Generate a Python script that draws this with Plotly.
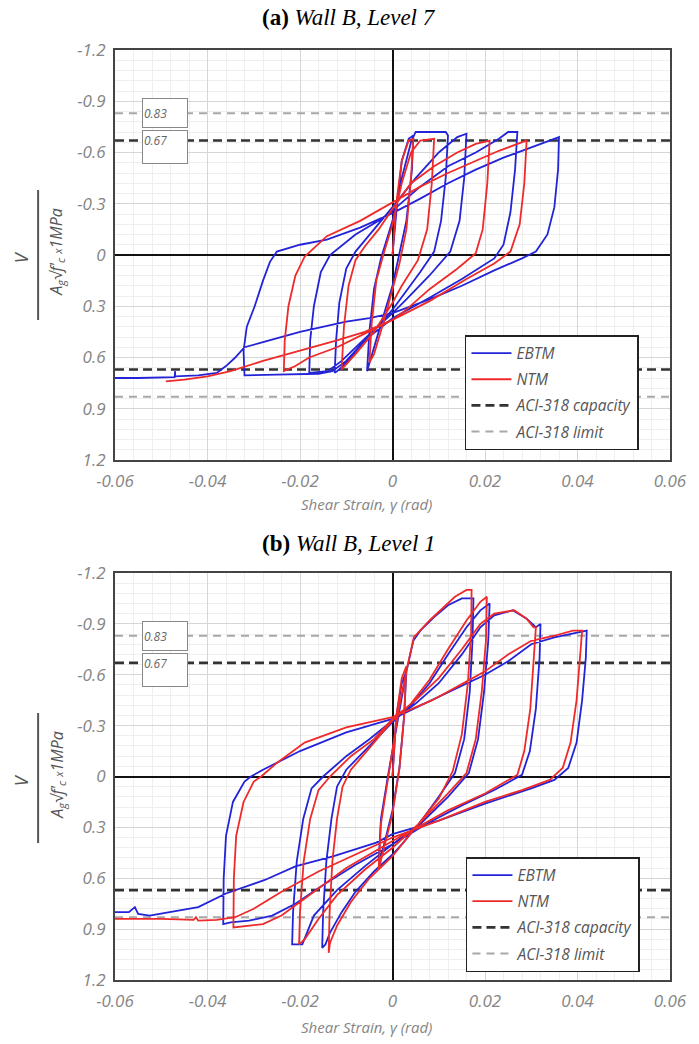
import plotly.graph_objects as go

# ---------------- data ----------------
x_ticks = [-0.06, -0.04, -0.02, 0, 0.02, 0.04, 0.06]
x_tick_text = ["-0.06", "-0.04", "-0.02", "0", "0.02", "0.04", "0.06"]
y_ticks = [-1.2, -0.9, -0.6, -0.3, 0, 0.3, 0.6, 0.9, 1.2]
y_tick_text = ["-1.2", "-0.9", "-0.6", "-0.3", "0", "0.3", "0.6", "0.9", "1.2"]

aci_capacity = 0.67
aci_limit = 0.83

# Panel (a) Wall B, Level 7 - EBTM
a_ebtm_x = [0, 0.001, 0.002, 0.0035, 0.0045,
            0.0042, 0.003, 0.0015, 0, -0.003, -0.005, -0.0055,
            -0.005, -0.004, -0.0025, 0, 0.002, 0.004, 0.005, 0.0115, 0.012,
            0.0115, 0.0105, 0.009, 0.006, 0.002, 0, -0.005, -0.009, -0.0115, -0.0125,
            -0.0122, -0.0115, -0.010, -0.008, -0.004, 0, 0.005, 0.010, 0.014, 0.016,
            0.0155, 0.0145, 0.0125, 0.008, 0.003, 0, -0.006, -0.011, -0.014, -0.018,
            -0.0178, -0.017, -0.0155, -0.0135, -0.008, -0.003, 0, 0.006, 0.012, 0.018, 0.023, 0.025, 0.027,
            0.0265, 0.0255, 0.024, 0.022, 0.015, 0.008, 0, -0.006, -0.010, -0.013, -0.016, -0.025, -0.032,
            -0.0322, -0.0315, -0.0298, -0.028, -0.0265, -0.025, -0.020, -0.0142, -0.007, 0, 0.006, 0.012,
            0.018, 0.024, 0.029, 0.033, 0.036,
            0.0358, 0.035, 0.0335, 0.031, 0.028, 0.022, 0.015, 0.008, 0, -0.005, -0.010, -0.020, -0.028,
            -0.032, -0.034, -0.036, -0.038, -0.042, -0.047, -0.047, -0.0471, -0.055, -0.060]
a_ebtm_y = [0, -0.30, -0.55, -0.68, -0.70,
            -0.50, -0.20, 0.0, 0.18, 0.45, 0.63, 0.68,
            0.45, 0.20, 0.02, -0.20, -0.45, -0.66, -0.72, -0.72, -0.70,
            -0.45, -0.20, -0.02, 0.10, 0.25, 0.32, 0.47, 0.60, 0.67, 0.69,
            0.50, 0.28, 0.08, -0.02, -0.15, -0.28, -0.45, -0.60, -0.69, -0.71,
            -0.45, -0.20, -0.02, 0.12, 0.26, 0.34, 0.49, 0.62, 0.68, 0.69,
            0.50, 0.30, 0.10, 0.0, -0.12, -0.20, -0.26, -0.40, -0.52, -0.60, -0.68, -0.72, -0.72,
            -0.50, -0.25, -0.06, 0.02, 0.14, 0.25, 0.37, 0.50, 0.62, 0.68, 0.695, 0.70, 0.705,
            0.56, 0.42, 0.30, 0.15, 0.04, -0.02, -0.06, -0.09, -0.16, -0.245, -0.33, -0.42,
            -0.50, -0.57, -0.62, -0.66, -0.69,
            -0.50, -0.28, -0.12, -0.02, 0.02, 0.09, 0.18, 0.26, 0.34, 0.37, 0.39, 0.45, 0.51,
            0.54, 0.60, 0.65, 0.69, 0.705, 0.71, 0.68, 0.715, 0.72, 0.72]

# Panel (a) - NTM
a_ntm_x = [0, 0.0008, 0.002, 0.0035, 0.0045,
           0.004, 0.003, 0.0015, 0, -0.002, -0.004, -0.005,
           -0.0045, -0.0035, -0.002, 0, 0.002, 0.004, 0.006, 0.009,
           0.0085, 0.0075, 0.0055, 0.002, 0, -0.004, -0.008, -0.0105, -0.011,
           -0.0105, -0.0095, -0.008, -0.006, -0.003, 0, 0.004, 0.009, 0.014, 0.018, 0.021,
           0.0205, 0.0195, 0.018, 0.014, 0.008, 0.003, 0, -0.006, -0.012, -0.018, -0.021, -0.0235,
           -0.0233, -0.0225, -0.021, -0.019, -0.0142, -0.007, 0, 0.006, 0.012, 0.018, 0.023, 0.027, 0.029,
           0.0285, 0.0275, 0.0255, 0.022, 0.016, 0.008, 0, -0.006, -0.012, -0.020, -0.028, -0.035,
           -0.040, -0.045, -0.049]
a_ntm_y = [0, -0.30, -0.55, -0.67, -0.68,
           -0.45, -0.15, 0.05, 0.20, 0.40, 0.58, 0.63,
           0.40, 0.15, 0.0, -0.18, -0.42, -0.60, -0.67, -0.68,
           -0.42, -0.15, 0.03, 0.18, 0.28, 0.45, 0.58, 0.65, 0.67,
           0.42, 0.18, 0.03, -0.05, -0.15, -0.27, -0.42, -0.52, -0.60, -0.65, -0.67,
           -0.42, -0.15, -0.01, 0.08, 0.20, 0.32, 0.38, 0.46, 0.54, 0.60, 0.65, 0.68,
           0.50, 0.30, 0.12, 0.01, -0.11, -0.20, -0.31, -0.40, -0.48, -0.55, -0.61, -0.65, -0.67,
           -0.42, -0.18, -0.02, 0.05, 0.14, 0.27, 0.38, 0.45, 0.50, 0.56, 0.62, 0.68,
           0.71, 0.73, 0.74]

# Panel (b) Wall B, Level 1 - EBTM
b_ebtm_x = [0, 0.0008, 0.002, 0.003,
            0.0025, 0.0015, 0, -0.002, -0.003,
            -0.0025, -0.001, 0, 0.0015, 0.003, 0.0045, 0.006, 0.009, 0.012, 0.015, 0.0175,
            0.0173, 0.0167, 0.0155, 0.0135, 0.010, 0.006, 0.002, 0, -0.004, -0.008, -0.011, -0.0135,
            -0.0145, -0.0152,
            -0.015, -0.0143, -0.0132, -0.012, -0.010, -0.005, 0, 0.004, 0.008, 0.012, 0.016, 0.019, 0.021,
            0.0207, 0.0198, 0.0185, 0.0165, 0.012, 0.006, 0, -0.006, -0.012, -0.017, -0.0195, -0.0217,
            -0.0215, -0.0207, -0.0193, -0.0175, -0.015, -0.010, -0.005, 0, 0.005, 0.010, 0.015, 0.019,
            0.022, 0.026, 0.029, 0.031, 0.032,
            0.0318, 0.031, 0.0297, 0.028, 0.022, 0.015, 0.008, 0, -0.008, -0.015, -0.021, -0.026, -0.031,
            -0.035, -0.0366,
            -0.0365, -0.036, -0.0345, -0.032, -0.0306, -0.028, -0.020, -0.010, 0, 0.0086, 0.014, 0.020,
            0.025, 0.030, 0.035, 0.040, 0.042,
            0.0418, 0.041, 0.0398, 0.038, 0.035, 0.030, 0.020, 0.010, 0, -0.0035, -0.0127, -0.021,
            -0.0276, -0.0327, -0.036, -0.042, -0.048, -0.0525, -0.055, -0.0557, -0.057, -0.060]
b_ebtm_y = [0, -0.35, -0.55, -0.62,
            -0.35, -0.05, 0.20, 0.42, 0.50,
            0.25, 0.0, -0.15, -0.40, -0.62, -0.80, -0.86, -0.94, -1.01, -1.05, -1.05,
            -0.80, -0.50, -0.22, -0.02, 0.12, 0.27, 0.40, 0.46, 0.56, 0.68, 0.80, 0.92,
            0.99, 1.01,
            0.80, 0.50, 0.25, 0.06, -0.04, -0.18, -0.32, -0.42, -0.55, -0.72, -0.88, -0.98, -1.02,
            -0.80, -0.50, -0.22, -0.02, 0.12, 0.28, 0.40, 0.53, 0.67, 0.82, 0.99, 0.99,
            0.80, 0.50, 0.25, 0.07, 0.0, -0.12, -0.22, -0.33, -0.43, -0.55, -0.72, -0.88,
            -0.95, -0.98, -0.93, -0.88, -0.90,
            -0.70, -0.40, -0.15, -0.01, 0.08, 0.17, 0.27, 0.40, 0.52, 0.64, 0.75, 0.82, 0.85,
            0.86, 0.87,
            0.60, 0.35, 0.15, 0.03, 0.0, -0.04, -0.15, -0.26, -0.34, -0.45, -0.52, -0.60,
            -0.68, -0.78, -0.82, -0.85, -0.86,
            -0.70, -0.45, -0.20, -0.05, 0.02, 0.07, 0.16, 0.26, 0.34, 0.39, 0.47, 0.53,
            0.61, 0.66, 0.69, 0.77, 0.80, 0.82, 0.81, 0.77, 0.80, 0.80]

# Panel (b) - NTM
b_ntm_x = [0, 0.0008, 0.002, 0.003,
           0.0025, 0.0015, 0, -0.002, -0.003,
           -0.0025, -0.001, 0, 0.0015, 0.003, 0.0046, 0.008, 0.0135, 0.016, 0.0171,
           0.017, 0.0163, 0.015, 0.013, 0.010, 0.005, 0, -0.005, -0.009, -0.012, -0.0135, -0.0138,
           -0.0136, -0.013, -0.012, -0.0108, -0.009, -0.004, 0, 0.004, 0.008, 0.012, 0.016, 0.019, 0.0204,
           0.0202, 0.0193, 0.018, 0.016, 0.012, 0.006, 0, -0.006, -0.012, -0.016, -0.019, -0.0202,
           -0.020, -0.0192, -0.0178, -0.016, -0.0135, -0.009, -0.004, 0, 0.005, 0.010, 0.015, 0.019,
           0.022, 0.0263, 0.029, 0.0305, 0.031,
           0.0305, 0.0298, 0.0285, 0.027, 0.020, 0.012, 0, -0.010, -0.018, -0.024, -0.028, -0.032, -0.0344,
           -0.0343, -0.0338, -0.0322, -0.030, -0.0284, -0.025, -0.019, -0.010, 0, 0.0086, 0.014, 0.020,
           0.025, 0.030, 0.035, 0.039, 0.041,
           0.0405, 0.0398, 0.0385, 0.0368, 0.034, 0.028, 0.020, 0.010, 0, -0.008, -0.016, -0.024,
           -0.030, -0.034, -0.038, -0.042, -0.0425, -0.043, -0.050, -0.060]
b_ntm_y = [0, -0.35, -0.58, -0.65,
           -0.35, -0.05, 0.22, 0.45, 0.55,
           0.28, 0.02, -0.15, -0.42, -0.62, -0.82, -0.92, -1.06, -1.10, -1.10,
           -0.85, -0.55, -0.25, -0.03, 0.13, 0.30, 0.47, 0.60, 0.74, 0.88, 0.98, 1.04,
           0.80, 0.50, 0.25, 0.06, -0.04, -0.20, -0.33, -0.43, -0.57, -0.75, -0.92, -1.03, -1.06,
           -0.80, -0.50, -0.22, -0.02, 0.10, 0.27, 0.42, 0.55, 0.70, 0.84, 0.96, 0.99,
           0.80, 0.50, 0.25, 0.08, 0.0, -0.12, -0.22, -0.34, -0.45, -0.58, -0.75, -0.90,
           -0.96, -0.98, -0.93, -0.88, -0.88,
           -0.70, -0.40, -0.15, -0.01, 0.10, 0.20, 0.38, 0.54, 0.70, 0.82, 0.87, 0.88, 0.89,
           0.60, 0.35, 0.15, 0.03, 0.0, -0.08, -0.20, -0.29, -0.35, -0.45, -0.53, -0.62,
           -0.72, -0.80, -0.83, -0.86, -0.86,
           -0.70, -0.45, -0.20, -0.05, 0.02, 0.08, 0.15, 0.26, 0.36, 0.46, 0.56, 0.68,
           0.78, 0.83, 0.845, 0.85, 0.83, 0.845, 0.84, 0.84]

# ---------------- styling ----------------
BLUE = "#2323d8"
RED = "#ee2a2a"
GRAY_TXT = "#858585"
FAM = "Open Sans"
TICK_FONT = dict(family=FAM, size=17, color=GRAY_TXT, style="italic")

fig = go.Figure()

panels = [
    ("x", "y", "legend", a_ebtm_x, a_ebtm_y, a_ntm_x, a_ntm_y),
    ("x2", "y2", "legend2", b_ebtm_x, b_ebtm_y, b_ntm_x, b_ntm_y),
]

for xa, ya, lg, ex, ey, nx, ny in panels:
    for sgn in (-1, 1):
        fig.add_trace(go.Scatter(
            x=[x_ticks[0], x_ticks[-1]], y=[sgn * aci_limit] * 2, xaxis=xa, yaxis=ya,
            mode="lines", line=dict(color="#a8a8a8", width=2, dash="8px,6px"),
            name="ACI-318 limit", legend=lg, showlegend=(sgn == 1),
            legendgroup=lg + "d", legendrank=4))
        fig.add_trace(go.Scatter(
            x=[x_ticks[0], x_ticks[-1]], y=[sgn * aci_capacity] * 2, xaxis=xa, yaxis=ya,
            mode="lines", line=dict(color="#333333", width=2.6, dash="9px,5px"),
            name="ACI-318 capacity", legend=lg, showlegend=(sgn == 1),
            legendgroup=lg + "c", legendrank=3))
    fig.add_trace(go.Scatter(x=ex, y=ey, xaxis=xa, yaxis=ya, mode="lines",
                             line=dict(color=BLUE, width=1.8), name="EBTM",
                             legend=lg, legendgroup=lg + "a", legendrank=1))
    fig.add_trace(go.Scatter(x=nx, y=ny, xaxis=xa, yaxis=ya, mode="lines",
                             line=dict(color=RED, width=1.8), name="NTM",
                             legend=lg, legendgroup=lg + "b", legendrank=2))

axis_common_x = dict(
    range=[-0.06, 0.06], tickmode="array", tickvals=x_ticks,
    ticktext=["<i>%s</i>" % t for t in x_tick_text],
    tickfont=TICK_FONT, showgrid=True, gridcolor="#d6d6d6", gridwidth=1,
    zeroline=True, zerolinecolor="#111111", zerolinewidth=1.6,
    showline=True, linecolor="#444444", linewidth=2, mirror=True,
    ticks="outside", ticklen=5, tickcolor="rgba(0,0,0,0)",
    minor=dict(showgrid=True, gridcolor="#efefef", dtick=0.004, tick0=0),
)
axis_common_y = dict(
    range=[1.2, -1.2], tickmode="array", tickvals=y_ticks,
    ticktext=["<i>%s</i>" % t for t in y_tick_text],
    tickfont=TICK_FONT, showgrid=True, gridcolor="#d6d6d6", gridwidth=1,
    zeroline=True, zerolinecolor="#111111", zerolinewidth=1.6,
    showline=True, linecolor="#444444", linewidth=2, mirror=True,
    ticks="outside", ticklen=4, tickcolor="rgba(0,0,0,0)",
    minor=dict(showgrid=True, gridcolor="#efefef", dtick=0.06, tick0=0),
)

H_TOP, H_BOT = 50, 64
PH = 1044 - H_TOP - H_BOT  # 930


def py(pix):
    return (1044 - H_BOT - pix) / PH


def px(pix):
    return (pix - 115) / (699 - 115 - 21)


fig.update_layout(
    width=699, height=1044,
    margin=dict(l=115, r=21, t=H_TOP, b=H_BOT),
    paper_bgcolor="white", plot_bgcolor="white",
    xaxis=dict(domain=[0, 1], anchor="y", **axis_common_x),
    yaxis=dict(domain=[py(460), 1], anchor="x", **axis_common_y),
    xaxis2=dict(domain=[0, 1], anchor="y2", **axis_common_x),
    yaxis2=dict(domain=[0, py(573)], anchor="x2", **axis_common_y),
    font=dict(family=FAM),
)

legend_style = dict(
    bgcolor="white", bordercolor="#222222", borderwidth=1.5,
    font=dict(family=FAM, size=15.5, color="#555555", style="italic"),
    xanchor="left", yanchor="top", traceorder="grouped", tracegroupgap=3,
    itemwidth=40,
)
fig.update_layout(
    legend=dict(x=px(470), y=py(335), **legend_style),
    legend2=dict(x=px(471), y=py(857), **legend_style),
)

annotations = []
# titles
for label, ypix in [("<b>(a)</b> <i>Wall B, Level 7</i>", 17),
                    ("<b>(b)</b> <i>Wall B, Level 1</i>", 543)]:
    annotations.append(dict(text=label, xref="paper", yref="paper", x=px(352), y=py(ypix),
                            showarrow=False, xanchor="center", yanchor="middle",
                            font=dict(family="Liberation Serif", size=23, color="black")))
# x-axis titles
for ypix in [504, 1027]:
    annotations.append(dict(text="<i>Shear Strain, γ (rad)</i>", xref="paper", yref="paper",
                            x=px(370), y=py(ypix), showarrow=False,
                            xanchor="center", yanchor="middle",
                            font=dict(family=FAM, size=15, color=GRAY_TXT, style="italic")))
# y-axis fraction labels
for off in [0, 523]:
    annotations.append(dict(text="<i>V</i>", xref="paper", yref="paper", x=px(20), y=py(257 + off),
                            showarrow=False, textangle=-90, xanchor="center", yanchor="middle",
                            font=dict(family=FAM, size=18, color="#555555", style="italic")))
    annotations.append(dict(
        text="<i>A<sub>g</sub>√f'<sub>c</sub> <span style='font-size:11px'>x</span>1MPa</i>",
        xref="paper", yref="paper", x=px(56), y=py(252 + off),
        showarrow=False, textangle=-90, xanchor="center", yanchor="middle",
        font=dict(family=FAM, size=16, color="#555555", style="italic")))
# value boxes
for xa, ya in [("x", "y"), ("x2", "y2")]:
    annotations.append(dict(text="<i>0.83</i>", xref=xa, yref=ya, x=-0.0491, y=-aci_limit,
                            showarrow=False, xanchor="center", yanchor="middle",
                            width=42, height=26, align="left", valign="middle",
                            bgcolor="white", bordercolor="#888888", borderwidth=1, borderpad=1,
                            font=dict(family=FAM, size=12, color="#666666", style="italic")))
    annotations.append(dict(text="<i>0.67</i>", xref=xa, yref=ya, x=-0.0491, y=-0.63,
                            showarrow=False, xanchor="center", yanchor="middle",
                            width=42, height=30, align="left", valign="top",
                            bgcolor="white", bordercolor="#888888", borderwidth=1, borderpad=1,
                            font=dict(family=FAM, size=12, color="#666666", style="italic")))
fig.update_layout(annotations=annotations)

shapes = []
for off in [0, 523]:
    shapes.append(dict(type="line", xref="paper", yref="paper",
                       x0=px(37), x1=px(37), y0=py(190 + off), y1=py(320 + off),
                       line=dict(color="#555555", width=2)))
fig.update_layout(shapes=shapes)

fig.write_html("out.html")
